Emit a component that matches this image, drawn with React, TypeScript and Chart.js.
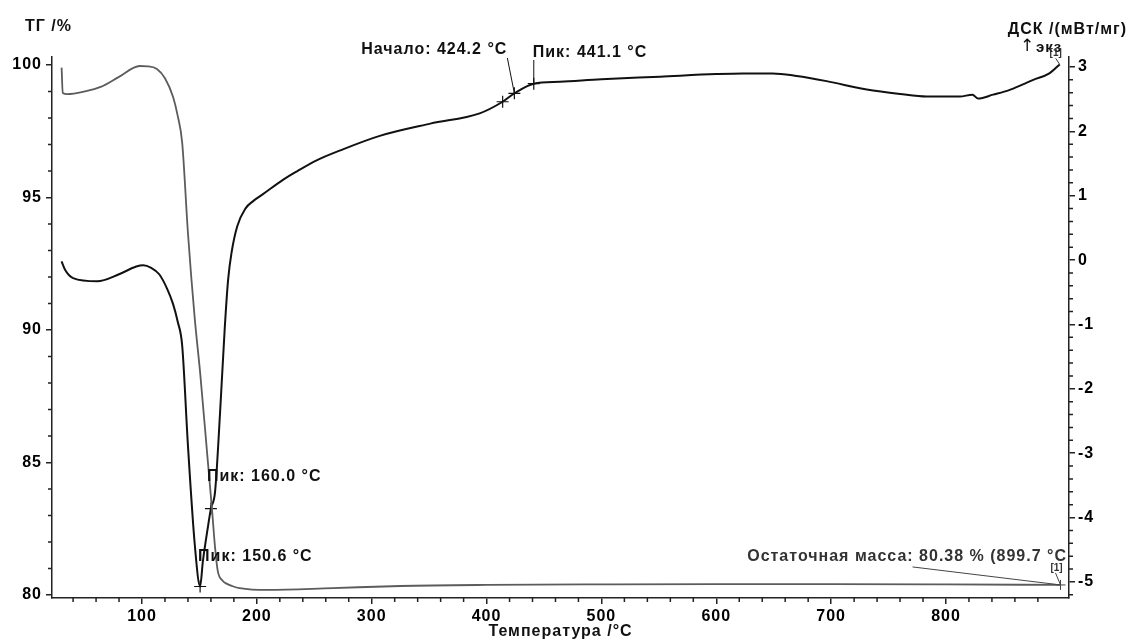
import React, { useEffect, useRef } from "react";
import { Chart, registerables } from "chart.js";

Chart.register(...registerables);

// ---- data ----
const tgTemp = [30, 31, 35, 50, 64, 80, 98, 105, 113, 120, 127, 131, 135, 140, 146, 150.6, 157, 161, 163.6, 166, 170, 174, 179, 185, 209, 266, 325, 400, 500, 600, 700, 800, 899.7];
const tgMass = [99.9, 98.94, 98.9, 99.0, 99.17, 99.55, 99.96, 99.95, 99.85, 99.5, 98.8, 98.1, 97.06, 93.66, 90.4, 88.4, 85.2, 83.2, 81.8, 80.9, 80.55, 80.42, 80.33, 80.26, 80.19, 80.26, 80.34, 80.38, 80.4, 80.41, 80.41, 80.4, 80.38];

const dscTemp = [30, 33, 40, 61, 80, 95, 101, 108, 115, 122, 127, 131, 135, 140, 146, 150.6, 153, 157.6, 160, 163.6, 168, 172, 175, 178, 183, 190, 197, 205, 223, 235, 252, 272, 307, 351, 394, 414, 424.2, 441.1, 464, 500, 551, 600, 623, 649, 670, 696, 731, 760, 783, 812, 823, 828, 841, 855, 867, 876, 890, 899];
const dscValue = [-0.02, -0.15, -0.28, -0.33, -0.22, -0.1, -0.08, -0.12, -0.22, -0.45, -0.68, -0.95, -1.33, -2.88, -4.43, -5.07, -4.68, -4.12, -3.86, -3.6, -2.36, -1.07, -0.3, 0.12, 0.53, 0.8, 0.92, 1.02, 1.25, 1.38, 1.55, 1.7, 1.93, 2.12, 2.28, 2.46, 2.59, 2.74, 2.77, 2.81, 2.85, 2.89, 2.9, 2.9, 2.86, 2.78, 2.65, 2.58, 2.54, 2.54, 2.57, 2.51, 2.57, 2.64, 2.73, 2.8, 2.9, 3.04];

const markerTemp = [150.6, 160.0, 414.0, 424.2, 441.1];
const markerDsc = [-5.07, -3.86, 2.46, 2.59, 2.74];
const residualTemp = [899.7];
const residualMass = [80.38];

const xTicks = [100, 200, 300, 400, 500, 600, 700, 800];
const tgTicks = [80, 85, 90, 95, 100];
const dscTicks = [-5, -4, -3, -2, -1, 0, 1, 2, 3];

const labels = {
  tgTitle: "ТГ /%",
  dscTitle: "ДСК /(мВт/мг)",
  exoArrow: "↑",
  exo: "экз",
  xTitle: "Температура /°C",
  peak150: "Пик: 150.6 °C",
  peak160: "Пик: 160.0 °C",
  onset: "Начало: 424.2 °C",
  peak441: "Пик: 441.1 °C",
  residual: "Остаточная масса: 80.38 % (899.7 °C",
  ref: "[1]",
};

const FONT = '"Liberation Sans", Arial, sans-serif';

const overlay = {
  id: "overlay",
  beforeDraw(chart: any) {
    (chart.ctx as any).letterSpacing = "1px";
  },
  afterDraw(chart: any) {
    const ctx = chart.ctx as CanvasRenderingContext2D;
    const x = chart.scales.x;
    const yt = chart.scales.yTg;
    const yd = chart.scales.yDsc;
    const area = chart.chartArea;
    ctx.save();
    (ctx as any).letterSpacing = "1px";
    // minor ticks
    ctx.strokeStyle = "#222";
    ctx.lineWidth = 1.5;
    ctx.beginPath();
    for (let k = 2; k <= 45; k++) {
      const t = k * 20;
      if (t % 100 === 0) continue;
      const px = x.getPixelForValue(t);
      ctx.moveTo(px, area.bottom);
      ctx.lineTo(px, area.bottom + 4);
    }
    for (let v = 80; v <= 100; v++) {
      if (v % 5 === 0) continue;
      const py = yt.getPixelForValue(v);
      ctx.moveTo(area.left - 4, py);
      ctx.lineTo(area.left, py);
    }
    for (let k = -26; k <= 15; k++) {
      if (k % 5 === 0) continue;
      const py = yd.getPixelForValue(k * 0.2);
      ctx.moveTo(area.right, py);
      ctx.lineTo(area.right + 4, py);
    }
    ctx.stroke();

    const text = (s: string, tx: number, ty: number, align: CanvasTextAlign, size = 16, color = "#111", family = FONT, weight = "bold") => {
      ctx.font = `${weight} ${size}px ${family}`;
      ctx.fillStyle = color;
      ctx.textAlign = align;
      ctx.textBaseline = "middle";
      ctx.fillText(s, tx, ty);
    };
    const line = (x1: number, y1: number, x2: number, y2: number, color = "#111", w = 1) => {
      ctx.strokeStyle = color;
      ctx.lineWidth = w;
      ctx.beginPath();
      ctx.moveTo(x1, y1);
      ctx.lineTo(x2, y2);
      ctx.stroke();
    };

    // titles
    text(labels.tgTitle, 25, 27, "left");
    text(labels.dscTitle, 1127, 30, "right");
    (ctx as any).letterSpacing = "0px";
    text(labels.exoArrow, 1027, 47, "center", 17, "#111", '"DejaVu Sans", sans-serif', "normal");
    (ctx as any).letterSpacing = "1px";
    text(labels.exo, 1036, 48, "left", 15);
    text(labels.xTitle, (area.left + area.right) / 2, 632, "center");

    // annotations
    const p150 = { x: x.getPixelForValue(markerTemp[0]), y: yd.getPixelForValue(markerDsc[0]) };
    text(labels.peak150, p150.x - 2, p150.y - 30, "left");
    const p160 = { x: x.getPixelForValue(markerTemp[1]), y: yd.getPixelForValue(markerDsc[1]) };
    text(labels.peak160, p160.x - 4, p160.y - 32, "left");
    const pOn = { x: x.getPixelForValue(markerTemp[3]), y: yd.getPixelForValue(markerDsc[3]) };
    line(pOn.x - 7, area.top + 1, pOn.x, pOn.y);
    text(labels.onset, pOn.x - 7, area.top - 7, "right");
    const pPk = { x: x.getPixelForValue(markerTemp[4]), y: yd.getPixelForValue(markerDsc[4]) };
    line(pPk.x, area.top + 3, pPk.x, pPk.y);
    text(labels.peak441, pPk.x - 1, area.top - 4, "left");

    const pRes = { x: x.getPixelForValue(residualTemp[0]), y: yt.getPixelForValue(residualMass[0]) };
    line(pRes.x - 148, pRes.y - 18, pRes.x, pRes.y, "#444", 1);
    line(pRes.x - 5, pRes.y - 12, pRes.x, pRes.y, "#444", 1);
    text(labels.residual, area.right - 2, pRes.y - 28, "right", 16, "#333");
    (ctx as any).letterSpacing = "0px";
    text(labels.ref, pRes.x - 4, pRes.y - 17, "center", 10, "#333");
    const pEnd = { x: x.getPixelForValue(dscTemp[dscTemp.length - 1]), y: yd.getPixelForValue(dscValue[dscValue.length - 1]) };
    line(pEnd.x - 4, pEnd.y - 6, pEnd.x, pEnd.y, "#333", 1);
    text(labels.ref, pEnd.x - 4, pEnd.y - 11, "center", 10, "#333");
    ctx.restore();
  },
};

export default function App() {
  const ref = useRef<HTMLCanvasElement | null>(null);
  useEffect(() => {
    if (!ref.current) return;
    const tickFont = { family: FONT, size: 16, weight: "bold" as const };
    const grid = { display: true, drawOnChartArea: false, drawTicks: true, tickLength: 6, color: "#222", lineWidth: 1.5 };
    const border = { display: true, color: "#222", width: 1.5 };
    const chart = new Chart(ref.current, {
      type: "line",
      data: {
        datasets: [
          {
            label: "ТГ",
            data: tgTemp.map((t, i) => ({ x: t, y: tgMass[i] })),
            yAxisID: "yTg",
            borderColor: "#5c5c5c",
            borderWidth: 1.8,
            pointRadius: 0,
            cubicInterpolationMode: "monotone",
          },
          {
            label: "ДСК",
            data: dscTemp.map((t, i) => ({ x: t, y: dscValue[i] })),
            yAxisID: "yDsc",
            borderColor: "#111",
            borderWidth: 2,
            pointRadius: 0,
            cubicInterpolationMode: "monotone",
          },
          {
            label: "markers",
            data: markerTemp.map((t, i) => ({ x: t, y: markerDsc[i] })),
            yAxisID: "yDsc",
            showLine: false,
            pointStyle: "cross",
            pointRadius: 6,
            borderColor: "#111",
            borderWidth: 1.2,
          },
          {
            label: "residual",
            data: residualTemp.map((t, i) => ({ x: t, y: residualMass[i] })),
            yAxisID: "yTg",
            showLine: false,
            pointStyle: "cross",
            pointRadius: 5,
            borderColor: "#444",
            borderWidth: 1,
          },
        ],
      },
      options: {
        animation: false,
        responsive: false,
        devicePixelRatio: 1,
        events: [],
        layout: { padding: { top: 57, left: 0, right: 0, bottom: 0 } },
        plugins: { legend: { display: false }, tooltip: { enabled: false }, title: { display: false } },
        scales: {
          x: {
            type: "linear",
            position: "bottom",
            min: 21.64,
            max: 907.1,
            afterBuildTicks: (s: any) => { s.ticks = xTicks.map((v) => ({ value: v })); },
            afterFit: (s: any) => { s.height = 43; },
            ticks: { font: tickFont, color: "#000", padding: 3, maxRotation: 0 },
            grid,
            border,
          },
          yTg: {
            type: "linear",
            position: "left",
            min: 79.887,
            max: 100.3,
            afterBuildTicks: (s: any) => { s.ticks = tgTicks.map((v) => ({ value: v })); },
            afterFit: (s: any) => { s.width = 52; },
            ticks: { font: tickFont, color: "#000", padding: 4 },
            grid,
            border,
          },
          yDsc: {
            type: "linear",
            position: "right",
            min: -5.249,
            max: 3.155,
            afterBuildTicks: (s: any) => { s.ticks = dscTicks.map((v) => ({ value: v })); },
            afterFit: (s: any) => { s.width = 60; },
            ticks: { font: tickFont, color: "#000", padding: 3 },
            grid,
            border,
          },
        },
      },
      plugins: [overlay],
    } as any);
    return () => chart.destroy();
  }, []);
  return (
    <div style={{ position: "fixed", left: 0, top: 0, width: 1129, height: 641, background: "#fff" }}>
      <canvas ref={ref} width={1129} height={641} style={{ display: "block" }} />
    </div>
  );
}
